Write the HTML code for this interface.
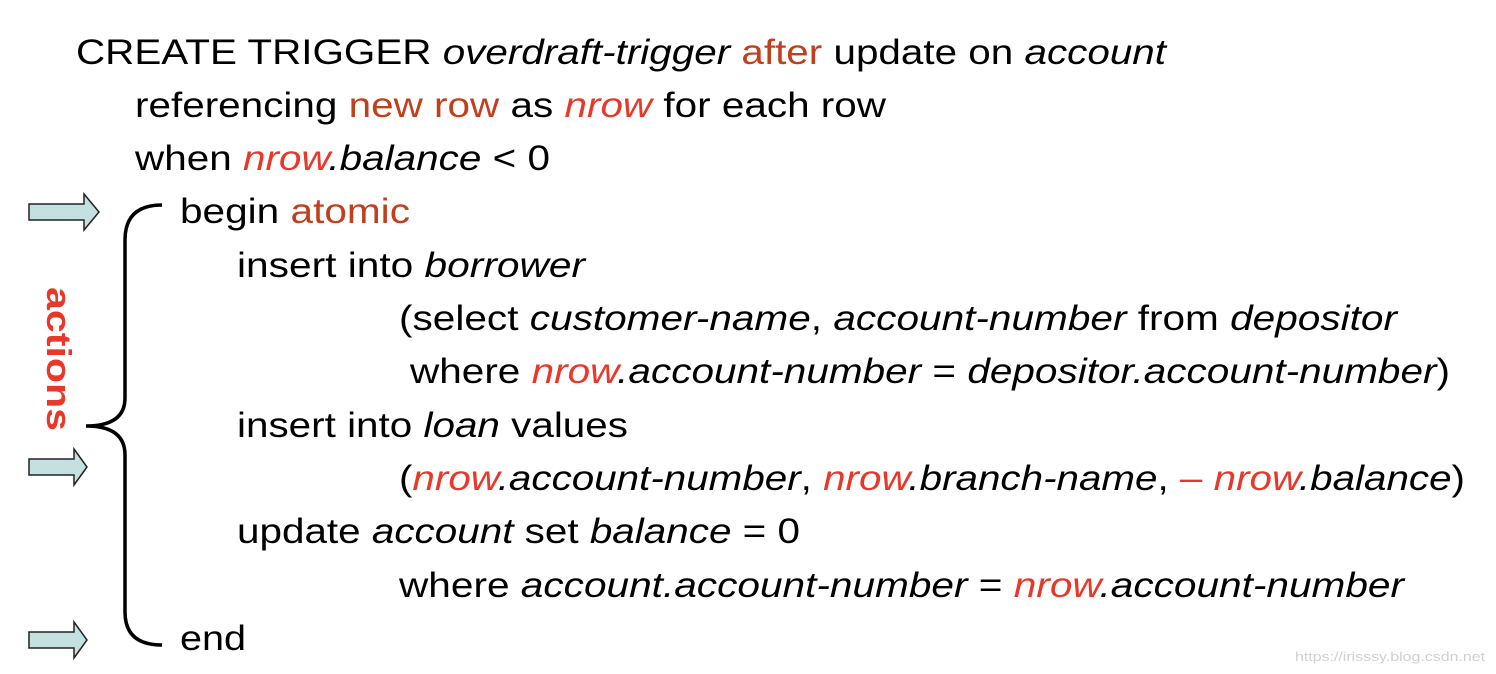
<!DOCTYPE html>
<html><head><meta charset="utf-8"><style>
html,body{margin:0;padding:0;background:#fff;}
svg{display:block;}
text{font-family:"Liberation Sans",Arial,sans-serif;font-size:35px;fill:#000;}
.i{font-style:italic;}
.o{fill:#c0401e;}
.r{fill:#e8382a;}
</style></head><body>
<svg width="1496" height="674" viewBox="0 0 1496 674" xmlns="http://www.w3.org/2000/svg">
<text x="76" y="64" textLength="1090" lengthAdjust="spacingAndGlyphs">CREATE TRIGGER <tspan class="i">overdraft-trigger</tspan> <tspan class="o">after</tspan> update on <tspan class="i">account</tspan></text>
<text x="135" y="117" textLength="751" lengthAdjust="spacingAndGlyphs">referencing <tspan class="o">new row</tspan> as <tspan class="i r">nrow</tspan> for each row</text>
<text x="135" y="170" textLength="415" lengthAdjust="spacingAndGlyphs">when <tspan class="i r">nrow</tspan><tspan class="i">.balance</tspan> &lt; 0</text>
<text x="180" y="223" textLength="230" lengthAdjust="spacingAndGlyphs">begin <tspan class="o">atomic</tspan></text>
<text x="237" y="277" textLength="348" lengthAdjust="spacingAndGlyphs">insert into <tspan class="i">borrower</tspan></text>
<text x="399" y="330" textLength="998" lengthAdjust="spacingAndGlyphs">(select <tspan class="i">customer-name</tspan>, <tspan class="i">account-number</tspan> from <tspan class="i">depositor</tspan></text>
<text x="410" y="383" textLength="1040" lengthAdjust="spacingAndGlyphs">where <tspan class="i r">nrow</tspan><tspan class="i">.account-number</tspan> = <tspan class="i">depositor.account-number</tspan>)</text>
<text x="237" y="437" textLength="391" lengthAdjust="spacingAndGlyphs">insert into <tspan class="i">loan</tspan> values</text>
<text x="399" y="490" textLength="1066" lengthAdjust="spacingAndGlyphs">(<tspan class="i r">nrow</tspan><tspan class="i">.account-number</tspan>, <tspan class="i r">nrow</tspan><tspan class="i">.branch-name</tspan>, <tspan class="r">–</tspan> <tspan class="i r">nrow</tspan><tspan class="i">.balance</tspan>)</text>
<text x="237" y="543" textLength="563" lengthAdjust="spacingAndGlyphs">update <tspan class="i">account</tspan> set <tspan class="i">balance</tspan> = 0</text>
<text x="399" y="597" textLength="1005" lengthAdjust="spacingAndGlyphs">where <tspan class="i">account.account-number</tspan> = <tspan class="i r">nrow</tspan><tspan class="i">.account-number</tspan></text>
<text x="180" y="650" textLength="66" lengthAdjust="spacingAndGlyphs">end</text>

<g fill="#c5e0e0" stroke="#222" stroke-width="1.5">
<polygon points="29,204 84,204 84,194 99,212 84,230 84,220 29,220"/>
<polygon points="29,459 74,459 74,449 87,467 74,485 74,475 29,475"/>
<polygon points="29,632 74,632 74,622 87,640 74,658 74,648 29,648"/>
</g>

<path d="M162,205 Q125,205 125,240 L125,398 Q125,426 86,426 Q125,426 125,455 L125,612 Q125,645 162,645" fill="none" stroke="#000" stroke-width="3.5"/>

<text transform="translate(47,287) rotate(90)" style="font-weight:bold;font-size:34px;fill:#e8382a" textLength="144" lengthAdjust="spacingAndGlyphs">actions</text>

<text x="1295" y="661" style="font-size:13px;fill:#d0d0d0" textLength="190" lengthAdjust="spacingAndGlyphs">https://irisssy.blog.csdn.net</text>
</svg>
</body></html>
